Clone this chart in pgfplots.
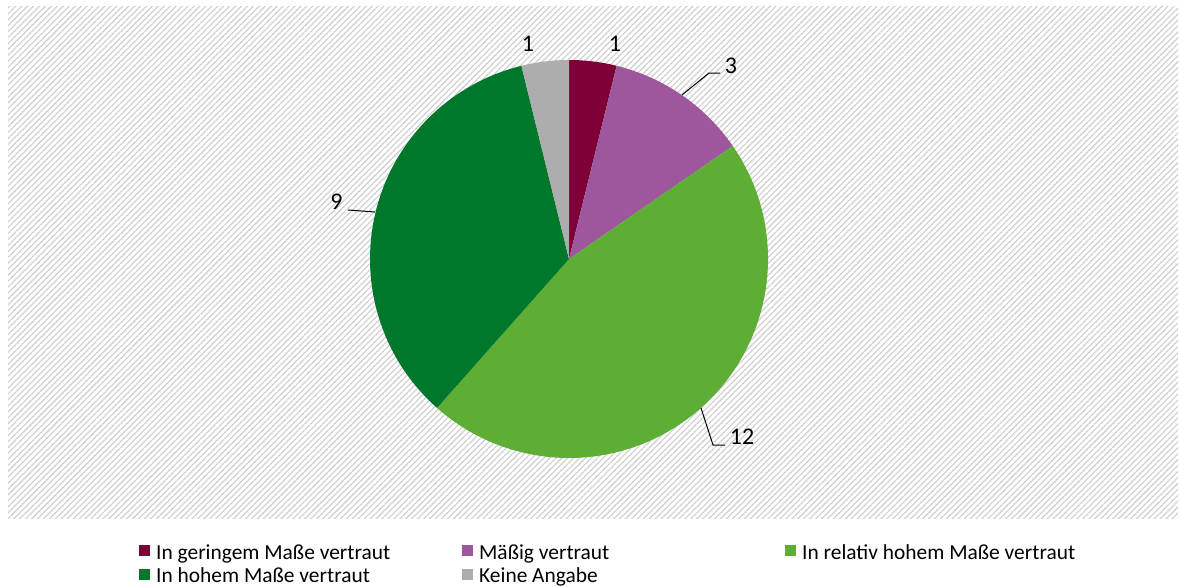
\documentclass[border=0pt]{standalone}
\usepackage{pgfplots}
\pgfplotsset{compat=1.18}
\usepackage{fontspec}
\setmainfont{Carlito}
\usetikzlibrary{patterns.meta}
\definecolor{c1}{HTML}{7F0037}
\definecolor{c2}{HTML}{9E579D}
\definecolor{c3}{HTML}{5EAE36}
\definecolor{c4}{HTML}{00782B}
\definecolor{c5}{HTML}{ADADAD}
\newcommand\lent[1]{\makebox[308bp][l]{\rule[-8bp]{0pt}{26bp}\hspace{4bp}#1}}
\begin{document}
\begin{tikzpicture}
\begin{axis}[width=1179bp,height=585bp,scale only axis,
  xmin=0,xmax=1179,ymin=0,ymax=585,y dir=reverse,hide axis,clip=false,
  legend columns=3, legend cell align=left,
  legend style={at={(axis cs:139,539)},anchor=north west,draw=none,fill=none,
    font=\fontsize{21.5}{24}\selectfont, inner sep=0pt},
  legend image code/.code={\fill[#1] (0bp,-5.5bp) rectangle (11bp,5.5bp);}]
\path (axis cs:0,0) rectangle (axis cs:1179,585);
\fill[pattern={Lines[angle=45,distance=4.2bp,line width=1.1bp]},pattern color=black!20]
  (axis cs:8,6) rectangle (axis cs:1178,518);
\pgfplotsextra{%
\xdef\piecum{0}%
\foreach \pv/\pcol in {1/c1,3/c2,12/c3,9/c4,1/c5}{
  \pgfmathsetmacro\pstart{90-\piecum*360/26}
  \pgfmathsetmacro\pend{90-(\piecum+\pv)*360/26}
  \fill[\pcol] (axis cs:569,259) -- ++(\pstart:199bp) arc[start angle=\pstart,end angle=\pend,radius=199bp] -- cycle;
  \pgfmathsetmacro\pnew{\piecum+\pv}\xdef\piecum{\pnew}
}}
\draw[line width=1bp] (axis cs:682,95) -- (axis cs:709,73) -- (axis cs:720,73);
\draw[line width=1bp] (axis cs:348,210) -- (axis cs:375,212);
\draw[line width=1bp] (axis cs:701,408) -- (axis cs:713,445) -- (axis cs:725,445);
\tikzset{lab/.style={font=\fontsize{24}{28}\selectfont, inner sep=0pt}}
\node[lab] at (axis cs:528,44) {1};
\node[lab] at (axis cs:615,44) {1};
\node[lab] at (axis cs:731,66) {3};
\node[lab] at (axis cs:336.5,201.5) {9};
\node[lab] at (axis cs:742,437) {12};
\addlegendimage{fill=c1,draw=none}\addlegendentry{\lent{In geringem Maße vertraut}}
\addlegendimage{fill=c2,draw=none}\addlegendentry{\lent{Mäßig vertraut}}
\addlegendimage{fill=c3,draw=none}\addlegendentry{\lent{In relativ hohem Maße vertraut}}
\addlegendimage{fill=c4,draw=none}\addlegendentry{\lent{In hohem Maße vertraut}}
\addlegendimage{fill=c5,draw=none}\addlegendentry{\lent{Keine Angabe}}
\end{axis}
\end{tikzpicture}
\end{document}
